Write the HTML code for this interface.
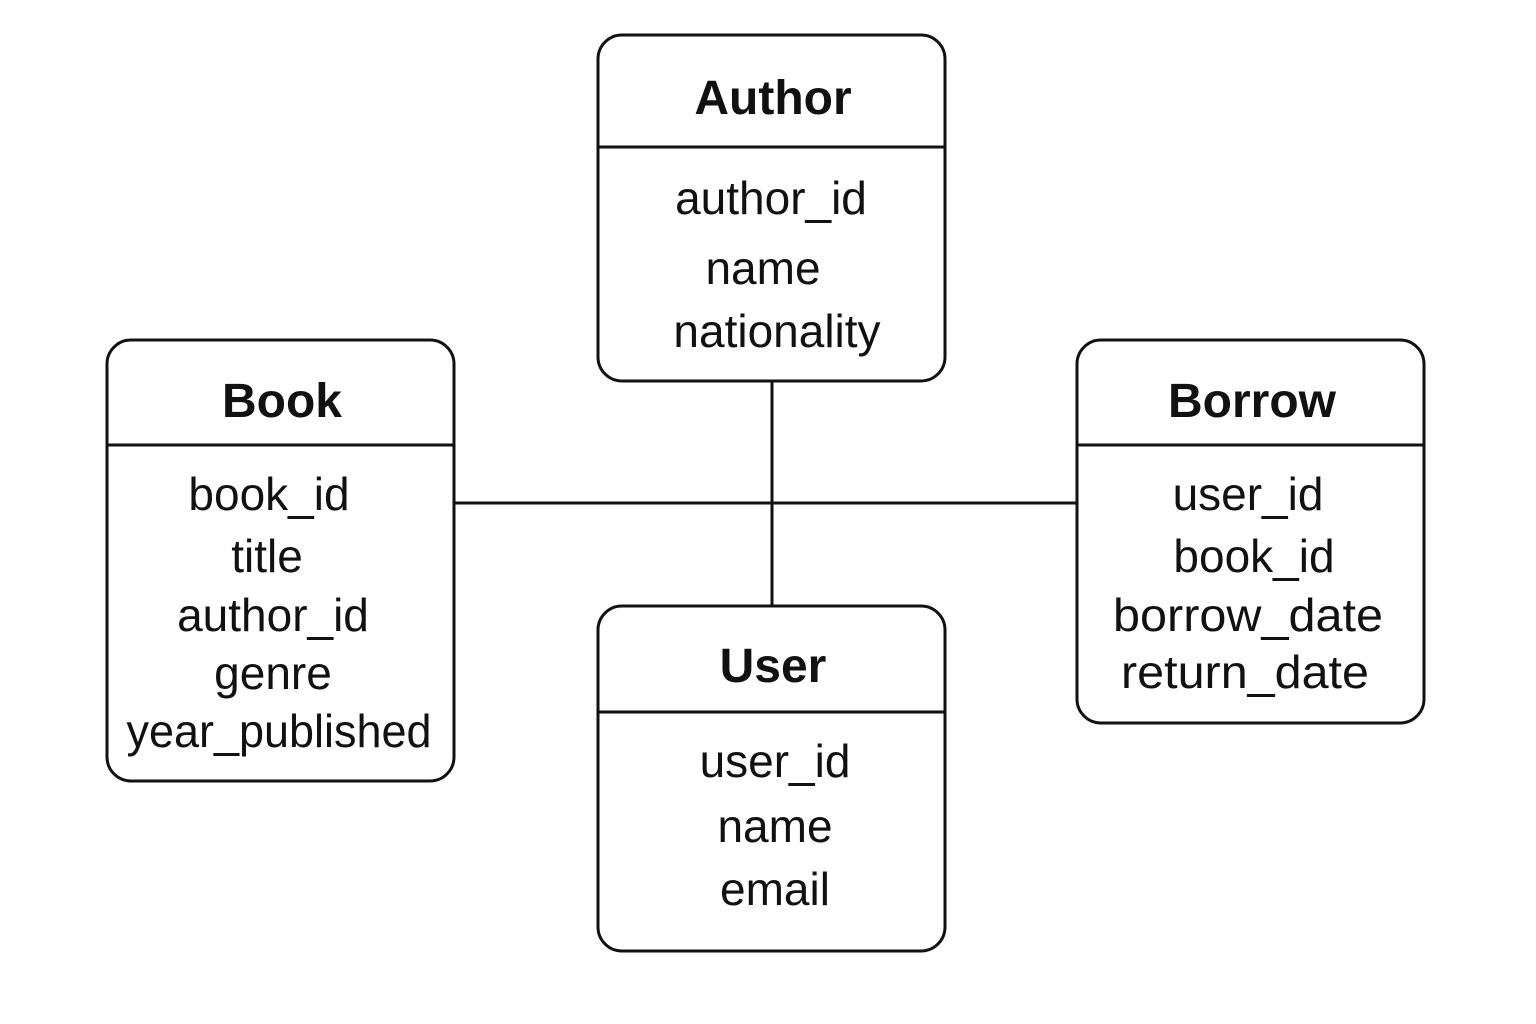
<!DOCTYPE html>
<html>
<head>
<meta charset="utf-8">
<style>
html,body{margin:0;padding:0;background:#fff;}
svg{display:block;}
text{font-family:"Liberation Sans","DejaVu Sans",sans-serif;fill:#111;text-anchor:middle;}
.t{font-size:48px;font-weight:bold;}
.f{font-size:46px;}
</style>
</head>
<body>
<svg width="1536" height="1024" viewBox="0 0 1536 1024" xmlns="http://www.w3.org/2000/svg">
<rect width="1536" height="1024" fill="#fff"/>
<g stroke="#111" stroke-width="3" fill="none">
  <line x1="454" y1="503" x2="1077" y2="503"/>
  <line x1="772" y1="381" x2="772" y2="606"/>
  <rect x="598" y="35" width="347" height="346" rx="24"/>
  <line x1="598" y1="147" x2="945" y2="147"/>
  <rect x="107" y="340" width="347" height="441" rx="24"/>
  <line x1="107" y1="445" x2="454" y2="445"/>
  <rect x="1077" y="340" width="347" height="383" rx="24"/>
  <line x1="1077" y1="445" x2="1424" y2="445"/>
  <rect x="598" y="606" width="347" height="345" rx="24"/>
  <line x1="598" y1="712" x2="945" y2="712"/>
</g>
<text class="t" x="773" y="114">Author</text>
<text class="f" x="771" y="214">author_id</text>
<text class="f" x="763" y="284">name</text>
<text class="f" x="777" y="347">nationality</text>

<text class="t" x="282" y="417">Book</text>
<text class="f" x="269" y="510">book_id</text>
<text class="f" x="267" y="572">title</text>
<text class="f" x="273" y="631">author_id</text>
<text class="f" x="273" y="689">genre</text>
<text class="f" x="279" y="747" textLength="305" lengthAdjust="spacingAndGlyphs">year_published</text>

<text class="t" x="1252" y="417">Borrow</text>
<text class="f" x="1248" y="510">user_id</text>
<text class="f" x="1254" y="572">book_id</text>
<text class="f" x="1248" y="631" textLength="270" lengthAdjust="spacingAndGlyphs">borrow_date</text>
<text class="f" x="1245" y="688" textLength="248" lengthAdjust="spacingAndGlyphs">return_date</text>

<text class="t" x="773" y="682">User</text>
<text class="f" x="775" y="777">user_id</text>
<text class="f" x="775" y="842">name</text>
<text class="f" x="775" y="905">email</text>
</svg>
</body>
</html>
